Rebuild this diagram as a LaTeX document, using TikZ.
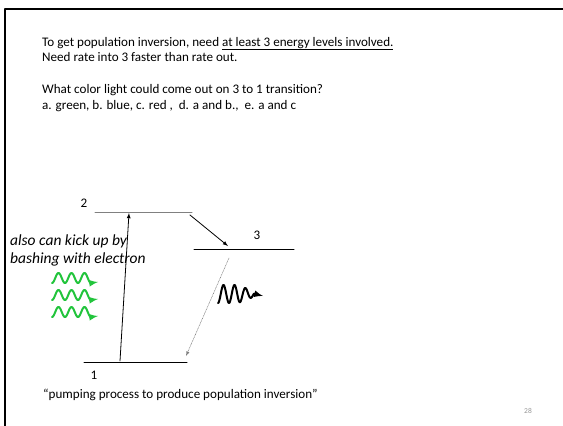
\documentclass[tikz,border=0pt]{standalone}
\usepackage{fontspec}
\setmainfont{Carlito}
\usepackage{xcolor}
\usetikzlibrary{arrows}
\definecolor{pumpgreen}{RGB}{34,196,60}
\definecolor{numgray}{RGB}{150,150,150}
\tikzset{
	slidetext/.style={anchor=base west,inner sep=0pt,font=\fontsize{13.1}{15}\selectfont},
	sidetext/.style={anchor=base west,inner sep=0pt,font=\fontsize{15.5}{18}\selectfont\itshape},
	levelnum/.style={inner sep=0pt,font=\fontsize{13.1}{15}\selectfont},
	levelline/.style={line width=1pt},
	greenwave/.style={color=pumpgreen,line width=2pt,-latex},
	blackwave/.style={color=black,line width=2pt,-latex}
}

\begin{document}
\begin{tikzpicture}[line cap=round,line join=round,x=1pt,y=-1pt]
		\useasboundingbox (0,0) rectangle (563,426);
		\draw [line width=2.5pt,line cap=rect] (5,426) -- (5,9) -- (563,9);
		% question text
		\node[slidetext] (line1) at (42,46) {To get population inversion, need \underline{at least 3 energy levels involved.}};
		\node[slidetext] (line2) at (42,61) {Need rate into 3 faster than rate out.};
		\node[slidetext] (line3) at (42,93) {What color light could come out on 3 to 1 transition?};
		\node[slidetext] (line4) at (42,109) {a. green, b. blue, c. red ,\ \ d. a and b.,\ \ e. a and c};
		% energy levels
		\coordinate (lev2a) at (95,212);
		\coordinate (lev2b) at (192,212);
		\coordinate (lev3a) at (194,249);
		\coordinate (lev3b) at (294,249);
		\coordinate (lev1a) at (84,362);
		\coordinate (lev1b) at (187,362);
		\draw [levelline,color=gray] (lev2a) -- (lev2b);
		\draw [levelline] (lev3a) -- (lev3b);
		\draw [levelline] (lev1a) -- (lev1b);
		\node[levelnum] (num2) at (84,203) {2};
		\node[levelnum] (num3) at (257,235) {3};
		\node[levelnum] (num1) at (94,375) {1};
		% transitions
		\coordinate (pumpfoot) at (120,361);
		\coordinate (pumptop) at (129,213);
		\coordinate (decayfrom) at (190,215);
		\coordinate (decayto) at (228,246);
		\coordinate (emitfrom) at (229,258);
		\coordinate (emitto) at (186,356);
		\draw [line width=0.8pt,-latex] (pumpfoot) -- (pumptop);
		\draw [line width=0.8pt,-latex] (decayfrom) -- (decayto);
		\draw [line width=0.6pt,color=gray,densely dotted,-latex] (emitfrom) -- (emitto);
		% electron kick
		\node[sidetext] (kick1) at (10,245) {also can kick up by};
		\node[sidetext] (kick2) at (10,263) {bashing with electron};
		\foreach \yc in {278,295,312}
			\draw [greenwave] plot[domain=52:91,samples=60] (\x,{\yc+5*cos(360*(\x-52)/13)}) -- (98,\yc+4);
		\draw [blackwave] plot[domain=218:254,samples=80] (\x,{294+(9-0.4*max(0,\x-238))*cos(360*(\x-218)/11)}) -- (263,296);
		% caption
		\node[slidetext] (caption) at (43,398) {“pumping process to produce population inversion”};
		\node[inner sep=0pt,font=\fontsize{7.5}{9}\selectfont,color=numgray] (pagenum) at (528,411) {28};
\end{tikzpicture}
\end{document}
